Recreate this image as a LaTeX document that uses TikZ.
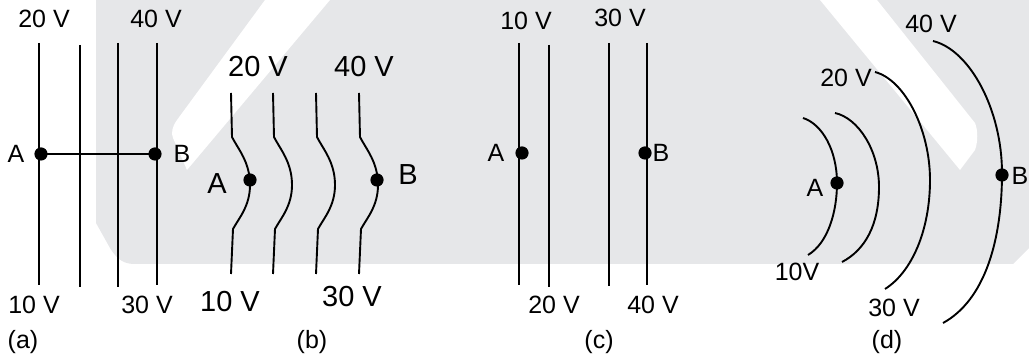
\documentclass[tikz,border=0pt]{standalone}
\usepackage{fontspec}
\setmainfont{Liberation Sans}
\definecolor{wmgray}{RGB}{230,231,233}
\tikzset{
    dot/.style = {circle, fill, inner sep = 0pt, minimum size = 6.6pt},
    lbl/.style = {inner sep = 0pt, font = \fontsize{12.5}{14}\selectfont},
    biglbl/.style = {inner sep = 0pt, font = \fontsize{14.5}{17}\selectfont},
    eqline/.style = {line width = 0.95pt},
}
\begin{document}
\begin{tikzpicture}[x = 0.5pt, y = -0.5pt]
    \useasboundingbox (0, 0) rectangle (1029, 356);
    % background
    \fill [wmgray] (96, 0) -- (96, 223) -- (110, 248) .. controls (118, 261) and (125, 264) .. (135, 264) -- (1013, 264) -- (1029, 248) -- (1029, 0) -- cycle;
    \fill [white] (265, 0) -- (177, 120) .. controls (172, 127) and (171, 133) .. (173, 138) -- (187, 170) -- (330, 0) -- cycle;
    \fill [white] (820, 0) -- (960, 170) -- (975, 150) .. controls (978, 142) and (978, 130) .. (975, 123) -- (877, 0) -- cycle;

    % (a)
    \foreach \x/\ya/\yb in {39/43/285, 80/45/287, 118/43/287, 157/43/285}
        \draw [eqline] (\x, \ya) -- (\x, \yb);
    \node [dot] (Aa) at (41, 154) {};
    \node [dot] (Ba) at (155, 154) {};
    \draw [eqline] (Aa.center) -- (Ba.center);
    \path
        (16, 154) node [lbl] (la) {A}
        (182, 154) node [lbl] (lb) {B}
        (44, 19) node [lbl] (la20) {20 V}
        (156, 19) node [lbl] (la40) {40 V}
        (34, 305) node [lbl] (la10) {10 V}
        (147, 305) node [lbl] (la30) {30 V}
        (23, 342) node [lbl] (capa) {(a)}
        ;

    % (b)
    \foreach \x in {231, 273, 316, 359}
        \draw [eqline] (\x, 93) -- (\x + 1, 137) .. controls (\x + 7, 149) and (\x + 19, 162) .. (\x + 19, 185) .. controls (\x + 19, 206) and (\x + 8, 218) .. (\x + 2, 229) -- (\x, 274);
    \node [dot] (Ab) at (250, 180) {};
    \node [dot] (Bb) at (377, 180) {};
    \path
        (217, 184) node [biglbl] (lab) {A}
        (408, 175) node [biglbl] (lbb) {B}
        (258, 67) node [biglbl] (lb20) {20 V}
        (364, 67) node [biglbl] (lb40) {40 V}
        (230, 302) node [biglbl] (lb10) {10 V}
        (352, 297) node [biglbl] (lb30) {30 V}
        (312, 342) node [lbl] (capb) {(b)}
        ;

    % (c)
    \foreach \x/\ya/\yb in {519/43/285, 549/45/287, 609/43/286, 647/43/285}
        \draw [eqline] (\x, \ya) -- (\x, \yb);
    \node [dot] (Ac) at (522, 153) {};
    \node [dot] (Bc) at (645, 153) {};
    \path
        (496, 153) node [lbl] (lac) {A}
        (661, 153) node [lbl] (lbc) {B}
        (526, 21) node [lbl] (lc10) {10 V}
        (620, 18) node [lbl] (lc30) {30 V}
        (554, 305) node [lbl] (lc20) {20 V}
        (653, 305) node [lbl] (lc40) {40 V}
        (599, 342) node [lbl] (capc) {(c)}
        ;

    % (d)
    \draw [eqline] (803, 118) .. controls (822, 124) and (837, 150) .. (837, 183) .. controls (837, 212) and (828, 243) .. (808, 255);
    \draw [eqline] (835, 113) .. controls (858, 118) and (879, 150) .. (879, 187) .. controls (879, 225) and (865, 250) .. (842, 262);
    \draw [eqline] (875, 72) .. controls (905, 80) and (930, 130) .. (930, 180) .. controls (930, 230) and (912, 272) .. (885, 289);
    \draw [eqline] (933, 41) .. controls (970, 50) and (1002, 110) .. (1002, 173) .. controls (1002, 240) and (985, 300) .. (943, 323);
    \node [dot] (Ad) at (837, 183) {};
    \node [dot] (Bd) at (1002, 175) {};
    \path
        (815, 188) node [lbl] (lad) {A}
        (1020, 176) node [lbl] (lbd) {B}
        (931, 24) node [lbl] (ld40) {40 V}
        (846, 78) node [lbl] (ld20) {20 V}
        (797, 272) node [lbl] (ld10) {10V}
        (894, 308) node [lbl] (ld30) {30 V}
        (887, 342) node [lbl] (capd) {(d)}
        ;
\end{tikzpicture}
\end{document}
